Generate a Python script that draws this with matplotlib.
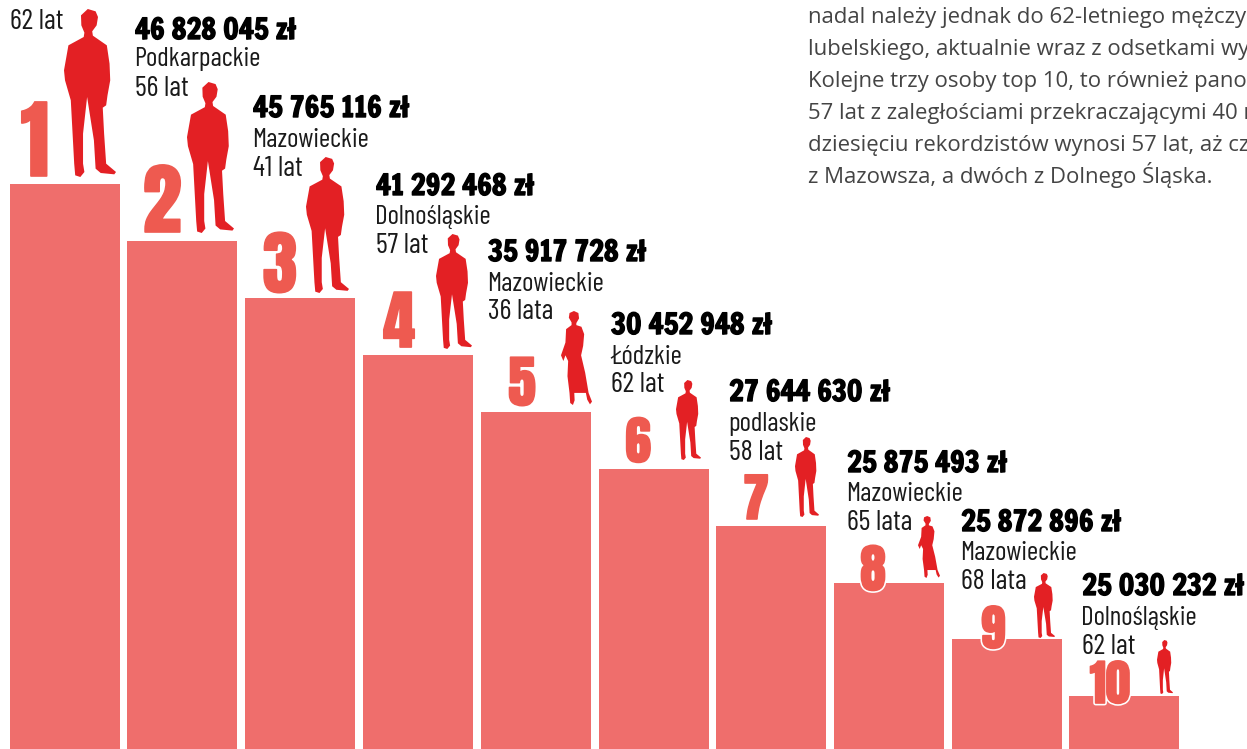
import matplotlib
matplotlib.use('Agg')
import matplotlib.pyplot as plt
import matplotlib.patheffects as pe
from matplotlib.patches import Polygon

# dane
ranks = ['1', '2', '3', '4', '5', '6', '7', '8', '9', '10']
bar_heights = [565, 508, 451, 394, 337, 280, 223, 166, 110, 53]
bar_lefts = [10, 127, 245, 363, 481, 599, 716, 834, 952, 1069]
amounts = ['46 828 045 zł', '45 765 116 zł', '41 292 468 zł', '35 917 728 zł', '30 452 948 zł',
           '27 644 630 zł', '25 875 493 zł', '25 872 896 zł', '25 030 232 zł']
regions = ['Podkarpackie', 'Mazowieckie', 'Dolnośląskie', 'Mazowieckie', 'Łódzkie',
           'podlaskie', 'Mazowieckie', 'Mazowieckie', 'Dolnośląskie']
ages = ['56 lat', '41 lat', '57 lat', '36 lata', '62 lat', '58 lat', '65 lata', '68 lata', '62 lat']
first_age = '62 lat'
body_lines = ['nadal należy jednak do 62-letniego mężczyzny',
              'lubelskiego, aktualnie wraz z odsetkami wynosi',
              'Kolejne trzy osoby top 10, to również panowie',
              '57 lat z zaległościami przekraczającymi 40 mln',
              'dziesięciu rekordzistów wynosi 57 lat, aż czterech',
              'z Mazowsza, a dwóch z Dolnego Śląska.']

# polozenie tekstow w pikselach (od gory)
label_x = [135, 253, 376, 488, 611, 729, 847, 961, 1082]
amount_y = [39, 117, 195, 261, 334, 401, 472, 531, 595]
region_y = [66, 147, 224, 291, 364, 431, 501, 560, 625]
age_y = [96, 176, 253, 319, 392, 460, 530, 589, 654]
num_x = [35, 162, 280, 399, 522, 638, 756, 873, 993, 1110]
num_y = [176, 232, 292, 347, 405, 462, 519, 590, 648, 703]
num_size = [62, 56, 50, 46, 40, 37, 37, 37, 35, 35]
# sylwetki: x0, x1, gora, dol, czy kobieta
people = [(64, 116, 9, 177, 0), (187, 234, 82, 233, 0), (306, 349, 157, 293, 0), (436, 472, 234, 349, 0),
          (561, 592, 311, 405, 1), (676, 701, 380, 460, 0), (795, 819, 437, 517, 0), (918, 940, 516, 578, 1),
          (1034, 1055, 573, 638, 0), (1157, 1173, 640, 694, 0)]

man = [(262, 26), (285, 33), (292, 50), (288, 75), (275, 93), (277, 106), (318, 135), (326, 190), (328, 240),
       (320, 285), (316, 315), (306, 322), (310, 400), (316, 490), (345, 515), (340, 522), (300, 518), (285, 505),
       (280, 420), (260, 290), (248, 400), (248, 490), (252, 515), (240, 530), (225, 525), (222, 490), (212, 300),
       (195, 240), (192, 210), (205, 135), (250, 110), (252, 97), (243, 75), (242, 45)]
woman = [(283, 246), (296, 252), (298, 268), (290, 282), (290, 288), (305, 293), (313, 315), (310, 350), (304, 378),
         (316, 430), (326, 490), (336, 516), (330, 524), (322, 510), (318, 490), (284, 490), (285, 512), (280, 526),
         (272, 520), (270, 490), (264, 440), (266, 395), (258, 378), (252, 395), (245, 378), (258, 340), (260, 300),
         (276, 288), (276, 280), (268, 266), (270, 252)]

heavy = ['Anton', 'Liberation Sans']
money = ['Francois One', 'Anton', 'Liberation Sans']
thin = ['Barlow Condensed', 'Liberation Sans']
H = 749


def draw_person(ax, box):
    x0, x1, top, bottom, is_woman = box
    shape = woman if is_woman else man
    xs = [p[0] for p in shape]
    ys = [p[1] for p in shape]
    pts = []
    for px, py in shape:
        nx = x0 + (px - min(xs)) / (max(xs) - min(xs)) * (x1 - x0)
        ny = top + (py - min(ys)) / (max(ys) - min(ys)) * (bottom - top)
        pts.append((nx, H - ny))
    ax.add_patch(Polygon(pts, closed=True, fc='#e32024', ec='none', zorder=3))


fig = plt.figure(figsize=(12.47, 7.49), dpi=100)
ax = fig.add_axes([0, 0, 1, 1])
ax.set_xlim(0, 1247)
ax.set_ylim(0, H)
ax.axis('off')

ax.bar(bar_lefts, bar_heights, width=110, align='edge', color='#ef6e6c', zorder=1)

for i in range(len(ranks)):
    # cyfry 8, 9, 10 maja biala obwodke bo wchodza na slupek
    effects = [pe.Stroke(linewidth=1.2, foreground='#ee5a50'), pe.Normal()]
    if i >= 7:
        effects = [pe.Stroke(linewidth=3.5, foreground='white')] + effects
    ax.text(num_x[i], H - num_y[i], ranks[i], family=heavy, fontsize=num_size[i],
            color='#ee5a50', ha='center', va='baseline', zorder=2, path_effects=effects)
    draw_person(ax, people[i])

ax.text(10, H - 29, first_age, family=thin, fontsize=20.5, color='#1a1a1a', va='baseline')
for i in range(len(amounts)):
    ax.text(label_x[i], H - amount_y[i], amounts[i], family=money, fontsize=20.5, color='black',
            va='baseline', zorder=4, path_effects=[pe.withStroke(linewidth=1.0, foreground='black')])
    ax.text(label_x[i] - 1, H - region_y[i], regions[i], family=thin, fontsize=19.5, color='#1a1a1a', va='baseline', zorder=4)
    ax.text(label_x[i], H - age_y[i], ages[i], family=thin, fontsize=20.5, color='#1a1a1a', va='baseline', zorder=4)

for k, line in enumerate(body_lines):
    ax.text(808, H - (23 + k * 32), line, family=['Open Sans', 'DejaVu Sans'], fontsize=15.9, color='#444444', va='baseline', clip_on=True)

fig.savefig('out.png', dpi=100)
